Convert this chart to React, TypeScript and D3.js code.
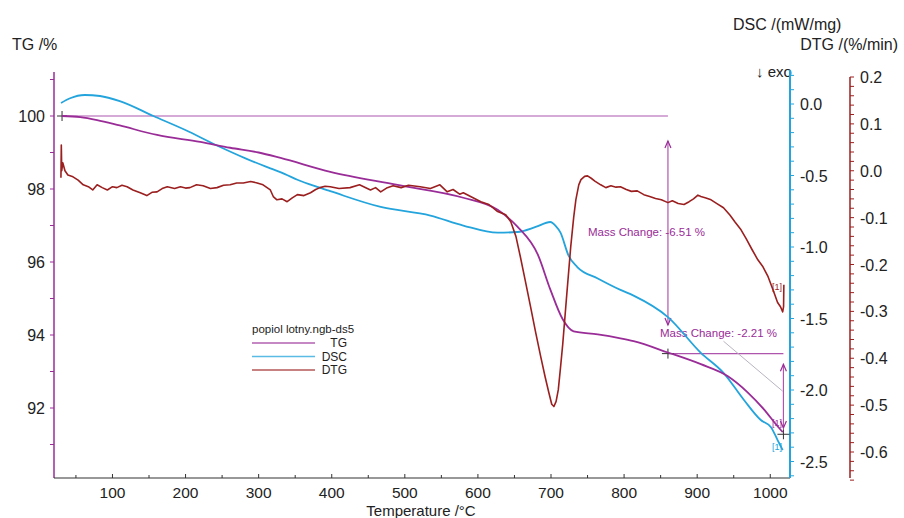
import * as React from 'react'
import * as d3 from 'd3'

// Temperature (°C) vs value readings
const tgCurve: [number, number][] = [
  [31, 100.0], [56, 99.97], [79, 99.89], [110, 99.74], [161, 99.48], [220, 99.29],
  [261, 99.13], [300, 99.0], [330, 98.85], [398, 98.47], [490, 98.11], [580, 97.76],
  [627, 97.43], [654, 96.97], [682, 96.2], [699, 95.25], [716, 94.43], [731, 94.1],
  [764, 94.02], [795, 93.91], [813, 93.83], [860, 93.52], [905, 93.2], [942, 92.87],
  [969, 92.43], [991, 91.97], [1010, 91.5], [1017, 91.34],
]

const dscCurve: [number, number][] = [
  [29.6, 0.007], [42, 0.04], [62, 0.063], [83, 0.056], [110, 0.02], [156, -0.084],
  [199, -0.18], [243, -0.29], [282, -0.38], [316, -0.45], [336, -0.49], [353, -0.53],
  [380, -0.58], [398, -0.61], [467, -0.72], [535, -0.78], [580, -0.85], [627, -0.9],
  [654, -0.895], [679, -0.86], [699, -0.825], [706, -0.85], [713, -0.9], [724, -1.06],
  [736, -1.14], [764, -1.22], [795, -1.3], [813, -1.34], [860, -1.49], [905, -1.74],
  [936, -1.88], [964, -2.07], [987, -2.21], [1001, -2.26], [1010, -2.35], [1017, -2.42],
]

const dtgCurve: [number, number][] = [
  [29.5, -0.015], [30, 0.055], [30.6, 0.0], [32, 0.017], [35, 0.0], [39, -0.009],
  [46, -0.013], [53, -0.02], [60, -0.03], [67, -0.034], [73, -0.041], [79, -0.03],
  [86, -0.036], [93, -0.041], [100, -0.034], [106, -0.036], [113, -0.031], [120, -0.034],
  [128, -0.041], [138, -0.047], [147, -0.053], [154, -0.046], [161, -0.045], [168, -0.038],
  [175, -0.034], [185, -0.038], [193, -0.034], [200, -0.037], [206, -0.036], [215, -0.03],
  [224, -0.032], [234, -0.038], [243, -0.036], [252, -0.031], [261, -0.03], [270, -0.026],
  [279, -0.026], [289, -0.023], [298, -0.026], [306, -0.03], [316, -0.041], [320, -0.055],
  [325, -0.062], [332, -0.06], [339, -0.066], [346, -0.058], [353, -0.051], [362, -0.053],
  [371, -0.047], [378, -0.04], [384, -0.036], [391, -0.033], [398, -0.034], [410, -0.038],
  [425, -0.036], [438, -0.03], [453, -0.041], [460, -0.036], [467, -0.045], [475, -0.037],
  [484, -0.032], [495, -0.036], [505, -0.031], [521, -0.034], [535, -0.038], [548, -0.03],
  [558, -0.045], [566, -0.04], [575, -0.05], [580, -0.047], [590, -0.055], [604, -0.066],
  [615, -0.072], [627, -0.087], [638, -0.094], [645, -0.109], [652, -0.14], [658, -0.183],
  [665, -0.236], [672, -0.29], [679, -0.345], [686, -0.397], [692, -0.44], [697, -0.473],
  [701, -0.498], [704, -0.503], [707, -0.492], [710, -0.467], [713, -0.42], [716, -0.371],
  [721, -0.275], [727, -0.162], [731, -0.1], [734, -0.062], [738, -0.03], [741, -0.019],
  [746, -0.012], [750, -0.011], [755, -0.016], [760, -0.022], [768, -0.03], [775, -0.036],
  [782, -0.032], [789, -0.035], [795, -0.034], [803, -0.04], [810, -0.044], [818, -0.043],
  [827, -0.051], [835, -0.055], [843, -0.059], [851, -0.062], [860, -0.068], [866, -0.064],
  [874, -0.07], [882, -0.072], [889, -0.066], [895, -0.06], [901, -0.052], [905, -0.055],
  [912, -0.058], [919, -0.062], [927, -0.07], [936, -0.079], [945, -0.095], [952, -0.11],
  [960, -0.126], [967, -0.145], [975, -0.168], [983, -0.19], [990, -0.205], [997, -0.226],
  [1004, -0.255], [1010, -0.281], [1014, -0.29], [1017, -0.301], [1018.2, -0.29], [1018.6, -0.243],
]

const xTicks = [100, 200, 300, 400, 500, 600, 700, 800, 900, 1000]
const tgTicks = [92, 94, 96, 98, 100]
const dscTicks = [0.0, -0.5, -1.0, -1.5, -2.0, -2.5]
const dtgTicks = [0.2, 0.1, 0.0, -0.1, -0.2, -0.3, -0.4, -0.5, -0.6]

const legendTitle = 'popiol lotny.ngb-ds5'
const seriesNames = ['TG', 'DSC', 'DTG']
const massChanges = [-6.51, -2.21]
const stepTemps = [860, 1018]
const tgLevels = [100.0, 93.49, 91.28]

const PURPLE = '#9a2c98'
const BLUE = '#23a4dc'
const RED = '#9b1f1f'
const FONT = '"Liberation Sans", Arial, Helvetica, sans-serif'

export default function App() {
  const left = 54
  const right = 790
  const top = 72
  const bottom = 478
  const dtgAxisX = 850

  const x = d3.scaleLinear().domain([20, 1027]).range([left, right])
  const yTG = d3.scaleLinear().domain([100, 92]).range([116, 408])
  const yDSC = d3.scaleLinear().domain([0, -2.5]).range([104, 461.5])
  const yDTG = d3.scaleLinear().domain([0.2, -0.6]).range([77, 452])

  const smooth = (ys: d3.ScaleLinear<number, number>) =>
    d3.line<[number, number]>().x(d => x(d[0])).y(d => ys(d[1])).curve(d3.curveMonotoneX)
  const rough = d3.line<[number, number]>().x(d => x(d[0])).y(d => yDTG(d[1]))

  const xMinor = d3.range(50, 1001, 50)
  const tgMinor = d3.range(91, 102, 1)
  const dscMinor = d3.range(0.2, -2.65, -0.1)
  const dtgMinor = d3.range(0.2, -0.66, -0.02)

  const lbl = { fontFamily: FONT, fontSize: 16, fill: '#222' }

  const arrowLen = 7
  const arrow = (xp: number, yp: number, dir: number, color: string) => (
    <path d={`M${xp - 3},${yp + dir * arrowLen} L${xp},${yp} L${xp + 3},${yp + dir * arrowLen}`}
      fill="none" stroke={color} strokeWidth={1.2} />
  )

  const s1 = x(stepTemps[0])
  const s2 = x(stepTemps[1])

  return (
    <svg width={904} height={518} style={{ position: 'absolute', left: 0, top: 0, background: '#fff' }}>
      <rect width={904} height={518} fill="#fff" />

      {/* titles */}
      <text x={12} y={50} {...lbl}>TG /%</text>
      <text x={733} y={30} {...lbl}>DSC /(mW/mg)</text>
      <text x={898} y={50} textAnchor="end" {...lbl}>DTG /(%/min)</text>
      <text x={756} y={77} {...lbl} fontSize={15}>↓ exo</text>
      <text x={421} y={516} textAnchor="middle" {...lbl} fontSize={15}>Temperature /°C</text>

      {/* left TG axis */}
      <line x1={left} x2={left} y1={top} y2={bottom} stroke={PURPLE} strokeWidth={1.5} />
      {tgMinor.map(t => (
        <line key={'tm' + t} x1={left - 4} x2={left} y1={yTG(t)} y2={yTG(t)} stroke={PURPLE} />
      ))}
      {tgTicks.map(t => (
        <text key={'tg' + t} x={45} y={yTG(t) + 6} textAnchor="end" {...lbl}>{t}</text>
      ))}

      {/* bottom axis */}
      <line x1={left} x2={right} y1={bottom} y2={bottom} stroke="#333" strokeWidth={1.2} />
      {xMinor.map(t => (
        <line key={'xm' + t} x1={x(t)} x2={x(t)} y1={bottom} y2={bottom - (t % 100 === 0 ? 4 : 3)} stroke="#333" />
      ))}
      {xTicks.map(t => (
        <text key={'x' + t} x={x(t)} y={498} textAnchor="middle" {...lbl} fontSize={15.5}>{t}</text>
      ))}

      {/* DSC axis */}
      <line x1={right} x2={right} y1={top - 2} y2={bottom} stroke={BLUE} strokeWidth={2} />
      {dscMinor.map((t, i) => (
        <line key={'dm' + i} x1={right} x2={right + 4} y1={yDSC(t)} y2={yDSC(t)} stroke={BLUE} />
      ))}
      {dscTicks.map(t => (
        <text key={'ds' + t} x={800} y={yDSC(t) + 6} {...lbl}>{t.toFixed(1)}</text>
      ))}

      {/* DTG axis */}
      <line x1={dtgAxisX} x2={dtgAxisX} y1={yDTG(0.2)} y2={bottom} stroke={RED} strokeWidth={1.5} />
      {dtgMinor.map((t, i) => (
        <line key={'rm' + i} x1={dtgAxisX} x2={dtgAxisX + 4} y1={yDTG(t)} y2={yDTG(t)} stroke={RED} />
      ))}
      {dtgTicks.map(t => (
        <text key={'dt' + t} x={860} y={yDTG(t) + 6} {...lbl}>{t.toFixed(1)}</text>
      ))}

      {/* mass change annotations */}
      <line x1={x(31)} x2={s1} y1={yTG(tgLevels[0])} y2={yTG(tgLevels[0])} stroke={PURPLE} strokeWidth={1.2} strokeOpacity={0.8} />
      <line x1={s1} x2={s1} y1={141} y2={325} stroke={PURPLE} strokeWidth={1.2} strokeOpacity={0.8} />
      {arrow(s1, 141, 1, PURPLE)}
      {arrow(s1, 325, -1, PURPLE)}
      <line x1={s1} x2={s2} y1={yTG(tgLevels[1])} y2={yTG(tgLevels[1])} stroke={PURPLE} strokeWidth={1.2} strokeOpacity={0.8} />
      <line x1={s2} x2={s2} y1={yTG(93.2)} y2={yTG(91.45)} stroke={PURPLE} strokeWidth={1.2} strokeOpacity={0.8} />
      {arrow(s2, yTG(93.2), 1, PURPLE)}
      {arrow(s2, yTG(91.45), -1, PURPLE)}
      <line x1={x(936)} x2={x(1017)} y1={yTG(93.83)} y2={yTG(92.46)} stroke="#b9b4c0" strokeWidth={1} />
      <line x1={x(31)} x2={x(31)} y1={yTG(100) - 5} y2={yTG(100) + 5} stroke="#333" />
      <line x1={x(31) - 5} x2={x(31) + 5} y1={yTG(100)} y2={yTG(100)} stroke="#333" />
      {[[s1, tgLevels[1]], [s2, tgLevels[2]]].map(([cx, v], i) => (
        <g key={'c' + i} stroke="#333">
          <line x1={cx - 6} x2={cx + 6} y1={yTG(v)} y2={yTG(v)} />
          <line x1={cx} x2={cx} y1={yTG(v) - 5} y2={yTG(v) + 5} />
        </g>
      ))}
      <text x={588} y={236} fontFamily={FONT} fontSize={11.5} fill={PURPLE}>Mass Change: {massChanges[0].toFixed(2)} %</text>
      <text x={660} y={337} fontFamily={FONT} fontSize={11.5} fill={PURPLE}>Mass Change: {massChanges[1].toFixed(2)} %</text>

      {/* curves */}
      <path d={smooth(yDSC)(dscCurve) || ''} fill="none" stroke={BLUE} strokeWidth={1.8} />
      <path d={smooth(yTG)(tgCurve) || ''} fill="none" stroke={PURPLE} strokeWidth={1.8} />
      <path d={rough(dtgCurve) || ''} fill="none" stroke={RED} strokeWidth={1.6} strokeLinejoin="round" />

      {/* end markers */}
      <text x={772} y={290} fontFamily={FONT} fontSize={9} fill={RED}>[1]</text>
      <text x={772} y={426} fontFamily={FONT} fontSize={9} fill={PURPLE}>[1]</text>
      <text x={772} y={450} fontFamily={FONT} fontSize={9} fill={BLUE}>[1]</text>

      {/* legend */}
      <text x={252} y={333} fontFamily={FONT} fontSize={11.5} fill="#222">{legendTitle}</text>
      {seriesNames.map((n, i) => (
        <g key={n}>
          <line x1={252} x2={315} y1={343 + i * 13.5} y2={343 + i * 13.5}
            stroke={[PURPLE, BLUE, RED][i]} strokeWidth={1.5} strokeOpacity={0.75} />
          <text x={347} y={347 + i * 13.5} textAnchor="end" fontFamily={FONT} fontSize={12} fill="#222">{n}</text>
        </g>
      ))}
    </svg>
  )
}
